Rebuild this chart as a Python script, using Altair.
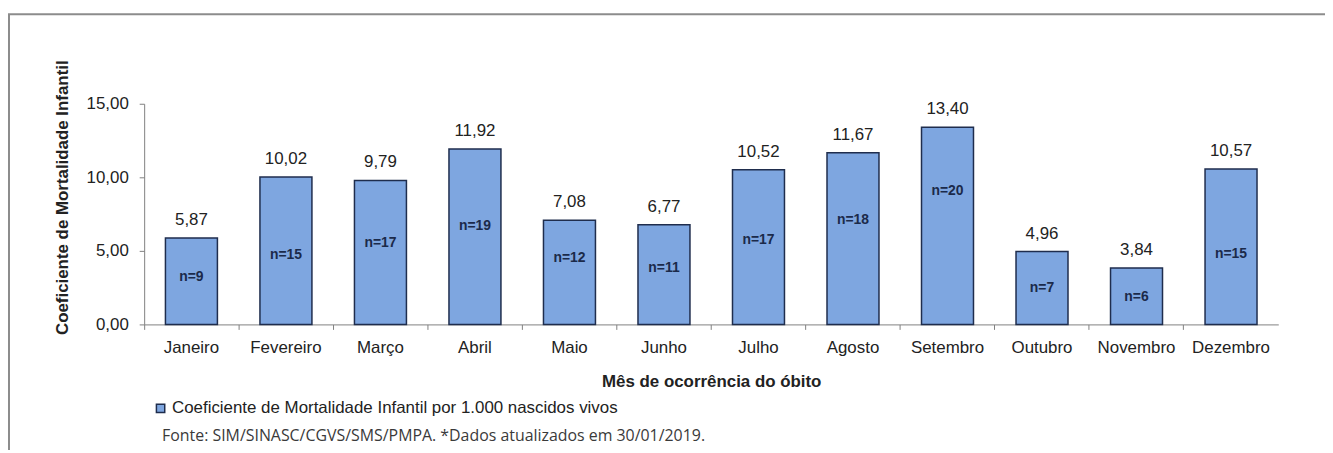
import altair as alt
import pandas as pd

months = ["Janeiro", "Fevereiro", "Março", "Abril", "Maio", "Junho",
          "Julho", "Agosto", "Setembro", "Outubro", "Novembro", "Dezembro"]
cmi = [5.87, 10.02, 9.79, 11.92, 7.08, 6.77, 10.52, 11.67, 13.40, 4.96, 3.84, 10.57]
obitos = [9, 15, 17, 19, 12, 11, 17, 18, 20, 7, 6, 15]
n_label_pos = [3.24, 4.73, 5.54, 6.69, 4.53, 3.85, 5.74, 7.09, 9.05, 2.5, 1.89, 4.8]
y_ticks = [0, 5, 10, 15]

series_name = "Coeficiente de Mortalidade Infantil por 1.000 nascidos vivos"
source_text = "Fonte: SIM/SINASC/CGVS/SMS/PMPA. *Dados atualizados em 30/01/2019."
x_title = "Mês de ocorrência do óbito"
y_title = "Coeficiente de Mortalidade Infantil"

df = pd.DataFrame({
    "mes": months,
    "cmi": cmi,
    "n": obitos,
    "npos": n_label_pos,
    "serie": [series_name] * len(months),
})

FONT = "Liberation Sans"
BAR_FILL = "#7EA6E0"
BAR_STROKE = "#1F2D4D"

xenc = alt.X(
    "mes:N", sort=months,
    scale=alt.Scale(paddingInner=0, paddingOuter=0),
    axis=alt.Axis(
        title=x_title, bandPosition=0, labelAngle=0,
        tickSize=5, tickColor="#808080", domainColor="#808080",
        labelFont=FONT, labelFontSize=17, labelColor="#222222", labelPadding=10,
        titleFont=FONT, titleFontSize=17, titleFontWeight="bold",
        titleColor="#222222", titlePadding=18,
    ),
)

base = alt.Chart(df)

bars = base.mark_bar(
    width=alt.RelativeBandSize(0.55), stroke=BAR_STROKE, strokeWidth=1.5
).encode(
    x=xenc,
    y=alt.Y(
        "cmi:Q",
        scale=alt.Scale(domain=[0, 15], nice=False, zero=True),
        axis=alt.Axis(
            title=y_title, values=y_ticks, grid=False,
            labelExpr="replace(format(datum.value, '.2f'), '.', ',')",
            tickSize=5, tickColor="#808080", domainColor="#808080",
            labelFont=FONT, labelFontSize=17, labelColor="#222222", labelPadding=11,
            titleFont=FONT, titleFontSize=17, titleFontWeight="bold",
            titleColor="#222222", titleX=-73, titleY=94,
        ),
    ),
    color=alt.Color(
        "serie:N",
        scale=alt.Scale(range=[BAR_FILL]),
        legend=alt.Legend(
            title=None, orient="none", legendX=8, legendY=298,
            symbolType="square", symbolSize=70, symbolStrokeColor=BAR_STROKE,
            symbolStrokeWidth=1.5, symbolFillColor=BAR_FILL,
            labelFont=FONT, labelFontSize=17, labelColor="#222222",
            labelLimit=800, padding=0, labelOffset=3,
        ),
    ),
)

values = base.transform_calculate(
    lbl="replace(format(datum.cmi, '.2f'), '.', ',')"
).mark_text(
    font=FONT, fontSize=17, color="#222222", baseline="bottom", dy=-9
).encode(x=alt.X("mes:N", sort=months), y="cmi:Q", text="lbl:N")

nlabels = base.transform_calculate(
    lbl="'n=' + datum.n"
).mark_text(
    font=FONT, fontSize=14, fontWeight="bold", color="#1B2A4A", baseline="middle"
).encode(x=alt.X("mes:N", sort=months), y="npos:Q", text="lbl:N")

src = alt.Chart(pd.DataFrame({"t": [source_text]})).mark_text(
    font="Open Sans", fontSize=16, color="#3A3A3A", align="left", baseline="middle"
).encode(text="t:N", x=alt.value(18), y=alt.value(334))

frame_top = alt.Chart(pd.DataFrame({"a": [0]})).mark_rule(
    color="#8C8C8C", strokeWidth=2
).encode(x=alt.value(-137), x2=alt.value(1190), y=alt.value(-90))

frame_left = alt.Chart(pd.DataFrame({"a": [0]})).mark_rule(
    color="#8C8C8C", strokeWidth=2
).encode(x=alt.value(-136), y=alt.value(-90), y2=alt.value(360))

chart = alt.layer(bars, values, nlabels, src, frame_top, frame_left).properties(
    width=1141, height=222,
    autosize=alt.AutoSizeParams(type="none"),
    padding={"left": 137, "top": 95, "right": 47, "bottom": 125},
    background="white",
).configure_view(stroke=None)

chart.save("out.html", embed_options={"renderer": "svg", "actions": False})
